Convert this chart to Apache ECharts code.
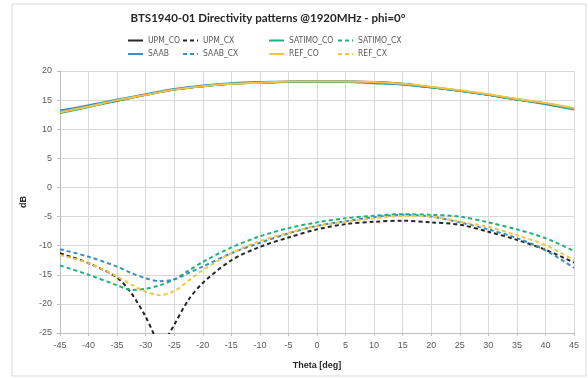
<!DOCTYPE html>
<html>
<head>
<meta charset="utf-8">
<script src="https://cdn.jsdelivr.net/npm/echarts@6/dist/echarts.min.js"></script>
<style>
	html, body { margin: 0; padding: 0; background: #fff; }
	#chart { width: 588px; height: 378px; }
</style>
</head>
<body>
<div id="chart"></div>
<script>
// theta grids (deg)
var thetaCo = [-45,-40,-35,-30,-25,-20,-15,-10,-5,0,5,10,15,20,25,30,35,40,45];
var thetaCx = [-45,-40,-35,-32.5,-30,-27.5,-25,-22.5,-20,-15,-10,-5,0,5,10,15,20,25,30,35,40,45];
var thetaUpmCx = [-45,-40,-35,-32.5,-30,-28.5,-27,-26,-25,-22.5,-20,-15,-10,-5,0,5,10,15,20,25,30,35,40,45];

// co-polar (dB)
var upmCo    = [12.9,13.9,14.9,15.9,16.8,17.4,17.8,18.0,18.15,18.2,18.2,18.1,17.8,17.2,16.6,15.9,15.1,14.4,13.5];
var satimoCo = [12.8,13.8,14.9,15.9,16.8,17.4,17.8,18.0,18.1,18.1,18.1,17.9,17.7,17.2,16.6,15.9,15.1,14.3,13.4];
var saabCo   = [13.2,14.1,15.1,16.0,16.9,17.5,17.9,18.1,18.2,18.2,18.2,18.0,17.7,17.2,16.6,15.9,15.2,14.4,13.5];
var refCo    = [12.9,13.9,15.0,15.9,16.8,17.4,17.8,18.0,18.2,18.2,18.2,18.1,17.8,17.3,16.7,16.0,15.2,14.5,13.6];

// cross-polar (dB)
var upmCx    = [-11.3,-13.0,-15.5,-18.2,-22.2,-25.4,-29,-25.4,-23.6,-19.3,-16.4,-12.5,-10.2,-8.6,-7.2,-6.3,-5.9,-5.7,-6.0,-6.4,-7.6,-9.0,-10.7,-12.9];
var satimoCx = [-13.4,-15.0,-16.8,-17.6,-17.4,-16.8,-15.8,-14.3,-12.8,-10.3,-8.4,-7.0,-6.0,-5.3,-4.85,-4.6,-4.7,-5.0,-6.0,-7.2,-8.7,-10.9];
var saabCx   = [-10.6,-11.9,-13.6,-14.7,-15.6,-16.1,-15.8,-14.7,-13.6,-11.3,-9.5,-7.9,-6.6,-5.8,-5.1,-4.7,-5.0,-6.0,-7.2,-8.7,-10.8,-13.8];
var refCx    = [-11.6,-13.0,-15.3,-16.7,-17.9,-18.5,-17.8,-16.0,-14.2,-11.3,-9.2,-7.8,-6.6,-5.9,-5.3,-4.9,-5.0,-5.9,-6.8,-8.2,-9.9,-12.5];

var colors = {
	upm: '#262626',
	satimo: '#22b07a',
	saab: '#3a8ec2',
	ref: '#f5c443'
};

function pairs(xs, ys) {
	var out = [];
	for (var i = 0; i < xs.length; i++) {
		out.push([xs[i], ys[i]]);
	}
	return out;
}

function line(name, xs, ys, color, dashed) {
	return {
		name: name,
		type: 'line',
		data: pairs(xs, ys),
		smooth: 0.3,
		symbol: 'none',
		clip: true,
		lineStyle: {
			color: color,
			width: 2,
			type: dashed ? [4, 3] : 'solid'
		},
		itemStyle: { color: color }
	};
}

var legendText = { color: '#595959', fontSize: 8.5, fontFamily: 'DejaVu Sans Condensed, Lato', lineHeight: 12 };

function legendCol(left, names) {
	return {
		orient: 'vertical',
		left: left,
		top: 34.5,
		itemWidth: 15,
		itemHeight: 8,
		itemGap: 1.5,
		padding: 0,
		itemStyle: { opacity: 0 },
		textStyle: legendText,
		data: names
	};
}

var axisLabel = { color: '#595959', fontSize: 9, fontFamily: 'Liberation Sans' };

var myChart = echarts.init(document.getElementById('chart'));

var option = {
	animation: false,
	backgroundColor: '#fff',
	graphic: [
		{
			type: 'rect',
			shape: { x: 12, y: 4, width: 574, height: 372 },
			style: { fill: 'none', stroke: '#d9d9d9', lineWidth: 1 },
			z: -1
		},
		{
			type: 'text',
			x: 268,
			y: 18,
			style: {
				text: 'BTS1940-01 Directivity patterns @1920MHz - phi=0°',
				fill: '#262626',
				font: 'bold 11.5px Lato',
				align: 'center',
				verticalAlign: 'middle'
			}
		}
	],
	legend: [
		legendCol(127, ['UPM_CO', 'SAAB']),
		legendCol(182, ['UPM_CX', 'SAAB_CX']),
		legendCol(268, ['SATIMO_CO', 'REF_CO']),
		legendCol(337, ['SATIMO_CX', 'REF_CX'])
	],
	grid: {
		left: 60,
		right: 14,
		top: 71,
		bottom: 45
	},
	xAxis: {
		type: 'value',
		min: -45,
		max: 45,
		interval: 5,
		name: 'Theta [deg]',
		nameLocation: 'middle',
		nameGap: 28,
		nameTextStyle: { color: '#262626', fontSize: 9, fontWeight: 'bold', fontFamily: 'Liberation Sans' },
		axisLine: { onZero: false, lineStyle: { color: '#bfbfbf' } },
		axisTick: { show: true, length: 3, lineStyle: { color: '#bfbfbf' } },
		axisLabel: axisLabel,
		splitLine: { show: true, lineStyle: { color: '#d9d9d9' } }
	},
	yAxis: {
		type: 'value',
		min: -25,
		max: 20,
		interval: 5,
		name: 'dB',
		nameLocation: 'middle',
		nameGap: 30,
		nameRotate: 90,
		nameTextStyle: { color: '#262626', fontSize: 9, fontWeight: 'bold', fontFamily: 'Liberation Sans' },
		axisLine: { show: true, onZero: false, lineStyle: { color: '#bfbfbf' } },
		axisTick: { show: true, length: 3, lineStyle: { color: '#bfbfbf' } },
		axisLabel: axisLabel,
		splitLine: { show: true, lineStyle: { color: '#d9d9d9' } }
	},
	series: [
		line('UPM_CO', thetaCo, upmCo, colors.upm, false),
		line('UPM_CX', thetaUpmCx, upmCx, colors.upm, true),
		line('SATIMO_CO', thetaCo, satimoCo, colors.satimo, false),
		line('SATIMO_CX', thetaCx, satimoCx, colors.satimo, true),
		line('SAAB', thetaCo, saabCo, colors.saab, false),
		line('SAAB_CX', thetaCx, saabCx, colors.saab, true),
		line('REF_CO', thetaCo, refCo, colors.ref, false),
		line('REF_CX', thetaCx, refCx, colors.ref, true)
	]
};

myChart.setOption(option);
</script>
</body>
</html>
